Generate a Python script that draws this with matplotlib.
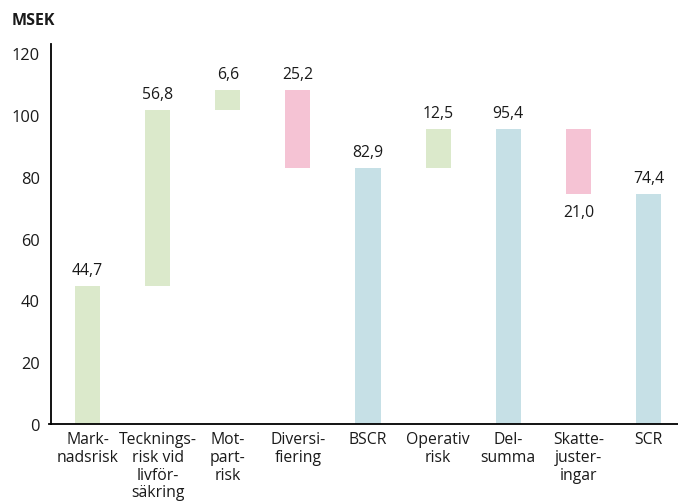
import matplotlib
matplotlib.use("Agg")
import matplotlib.pyplot as plt

categories = ["Mark-\nnadsrisk", "Tecknings-\nrisk vid\nlivför-\nsäkring", "Mot-\npart-\nrisk",
              "Diversi-\nfiering", "BSCR", "Operativ\nrisk", "Del-\nsumma", "Skatte-\njuster-\ningar", "SCR"]
bottoms = [0, 44.7, 101.5, 82.9, 0, 82.9, 0, 74.4, 0]
heights = [44.7, 56.8, 6.6, 25.2, 82.9, 12.5, 95.4, 21.0, 74.4]
labels = ["44,7", "56,8", "6,6", "25,2", "82,9", "12,5", "95,4", "21,0", "74,4"]
kinds = ["up", "up", "up", "down", "total", "up", "total", "down", "total"]
label_below = [False, False, False, False, False, False, False, True, False]

colors = {"up": "#dbe9cb", "down": "#f5c3d4", "total": "#c6e0e6"}

plt.rcParams['font.family'] = ['Open Sans', 'DejaVu Sans']

W, H = 678, 502
fig = plt.figure(figsize=(W / 100, H / 100), dpi=100)
ax = fig.add_axes([51 / W, 1 - 425 / H, 1 - 51 / W, (425 - 45) / H])

x = list(range(len(categories)))
ax.bar(x, heights, bottom=bottoms, width=0.357, color=[colors[k] for k in kinds], linewidth=0)

fs = 11.3
for i in x:
    if label_below[i]:
        ax.annotate(labels[i], (i, bottoms[i]), xytext=(0, -7), textcoords="offset points",
                    ha="center", va="top", fontsize=fs, color="#1a1a1a")
    else:
        ax.annotate(labels[i], (i, bottoms[i] + heights[i]), xytext=(0, 6), textcoords="offset points",
                    ha="center", va="bottom", fontsize=fs, color="#1a1a1a")

ax.set_xlim(-0.52, 8.42)
ax.set_ylim(0, 123)
ax.set_yticks([0, 20, 40, 60, 80, 100, 120])
ax.set_yticklabels(["0", "20", "40", "60", "80", "100", "120"], fontsize=fs + 0.5, color="#1a1a1a")
ax.tick_params(axis="y", length=0, pad=8)
ax.set_xticks(x)
ax.set_xticklabels(categories, fontsize=fs, color="#1a1a1a", linespacing=1.15)
ax.tick_params(axis="x", length=0, pad=5)
for s in ["top", "right"]:
    ax.spines[s].set_visible(False)
ax.spines["left"].set_linewidth(1.3)
ax.spines["bottom"].set_linewidth(1.3)
ax.plot([-0.55, -0.52], [0, 0], color="black", lw=1.3, clip_on=False)

fig.text(12 / W, 1 - 21 / H, "MSEK", fontsize=11.5, fontweight="bold", va="center", ha="left", color="#1a1a1a")

fig.savefig("out.png", dpi=100)
